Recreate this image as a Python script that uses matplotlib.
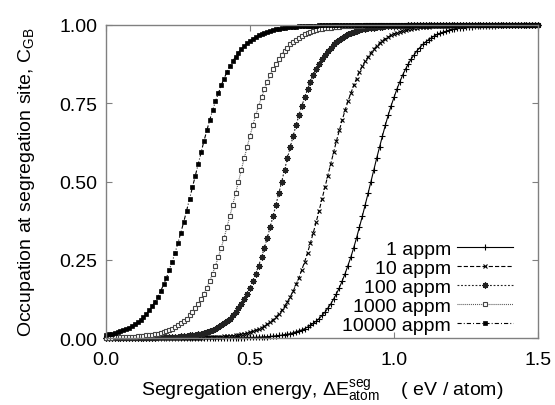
import numpy as np
import matplotlib
matplotlib.use('Agg')
import matplotlib.pyplot as plt

# Сетка энергий сегрегации (eV/atom), маркеры через 0.01 eV
energy = np.linspace(0.0, 1.5, 151)

# Заселённость сегрегационного места (шаг 0.01 eV)
occ_1 = [
    0.000, 0.000, 0.000, 0.000, 0.000, 0.000, 0.000, 0.000, 0.000, 0.000,
    0.000, 0.000, 0.000, 0.000, 0.000, 0.000, 0.000, 0.000, 0.000, 0.000,
    0.000, 0.000, 0.000, 0.000, 0.000, 0.000, 0.000, 0.000, 0.000, 0.000,
    0.000, 0.000, 0.000, 0.000, 0.000, 0.000, 0.000, 0.000, 0.000, 0.000,
    0.000, 0.000, 0.001, 0.001, 0.001, 0.001, 0.001, 0.001, 0.001, 0.002,
    0.002, 0.002, 0.002, 0.003, 0.003, 0.004, 0.004, 0.005, 0.006, 0.007,
    0.008, 0.009, 0.011, 0.012, 0.014, 0.017, 0.020, 0.023, 0.026, 0.030,
    0.035, 0.041, 0.047, 0.054, 0.062, 0.072, 0.082, 0.095, 0.108, 0.124,
    0.141, 0.160, 0.182, 0.205, 0.231, 0.258, 0.288, 0.320, 0.354, 0.389,
    0.425, 0.462, 0.500, 0.538, 0.575, 0.611, 0.646, 0.680, 0.712, 0.742,
    0.769, 0.795, 0.818, 0.840, 0.859, 0.876, 0.892, 0.905, 0.918, 0.928,
    0.938, 0.946, 0.953, 0.959, 0.965, 0.970, 0.974, 0.977, 0.980, 0.983,
    0.986, 0.988, 0.989, 0.991, 0.992, 0.993, 0.994, 0.995, 0.996, 0.996,
    0.997, 0.997, 0.998, 0.998, 0.998, 0.998, 0.999, 0.999, 0.999, 0.999,
    0.999, 0.999, 1.000, 1.000, 1.000, 1.000, 1.000, 1.000, 1.000, 1.000,
    1.000,
]
occ_10 = [
    0.000, 0.000, 0.000, 0.000, 0.000, 0.000, 0.000, 0.000, 0.000, 0.000,
    0.000, 0.000, 0.000, 0.000, 0.000, 0.000, 0.000, 0.000, 0.000, 0.000,
    0.000, 0.000, 0.000, 0.000, 0.000, 0.000, 0.000, 0.001, 0.001, 0.001,
    0.001, 0.001, 0.001, 0.001, 0.002, 0.002, 0.002, 0.003, 0.003, 0.003,
    0.004, 0.005, 0.005, 0.006, 0.007, 0.009, 0.010, 0.012, 0.013, 0.016,
    0.018, 0.021, 0.024, 0.028, 0.033, 0.038, 0.044, 0.050, 0.058, 0.067,
    0.077, 0.088, 0.101, 0.116, 0.132, 0.150, 0.171, 0.193, 0.218, 0.244,
    0.273, 0.304, 0.337, 0.371, 0.407, 0.444, 0.481, 0.519, 0.556, 0.593,
    0.629, 0.663, 0.696, 0.727, 0.756, 0.782, 0.807, 0.829, 0.850, 0.868,
    0.884, 0.899, 0.912, 0.923, 0.933, 0.942, 0.950, 0.956, 0.962, 0.967,
    0.972, 0.976, 0.979, 0.982, 0.984, 0.987, 0.988, 0.990, 0.991, 0.993,
    0.994, 0.995, 0.995, 0.996, 0.997, 0.997, 0.997, 0.998, 0.998, 0.998,
    0.999, 0.999, 0.999, 0.999, 0.999, 0.999, 0.999, 1.000, 1.000, 1.000,
    1.000, 1.000, 1.000, 1.000, 1.000, 1.000, 1.000, 1.000, 1.000, 1.000,
    1.000, 1.000, 1.000, 1.000, 1.000, 1.000, 1.000, 1.000, 1.000, 1.000,
    1.000,
]
occ_100 = [
    0.000, 0.000, 0.000, 0.000, 0.000, 0.000, 0.000, 0.000, 0.000, 0.000,
    0.000, 0.001, 0.001, 0.001, 0.001, 0.001, 0.001, 0.001, 0.002, 0.002,
    0.002, 0.002, 0.003, 0.003, 0.004, 0.004, 0.005, 0.006, 0.007, 0.008,
    0.009, 0.011, 0.012, 0.014, 0.017, 0.020, 0.023, 0.026, 0.030, 0.035,
    0.041, 0.047, 0.054, 0.062, 0.072, 0.082, 0.095, 0.108, 0.124, 0.141,
    0.160, 0.182, 0.205, 0.231, 0.258, 0.288, 0.320, 0.354, 0.389, 0.425,
    0.462, 0.500, 0.538, 0.575, 0.611, 0.646, 0.680, 0.712, 0.742, 0.769,
    0.795, 0.818, 0.840, 0.859, 0.876, 0.892, 0.905, 0.918, 0.928, 0.938,
    0.946, 0.953, 0.959, 0.965, 0.970, 0.974, 0.977, 0.980, 0.983, 0.986,
    0.988, 0.989, 0.991, 0.992, 0.993, 0.994, 0.995, 0.996, 0.996, 0.997,
    0.997, 0.998, 0.998, 0.998, 0.998, 0.999, 0.999, 0.999, 0.999, 0.999,
    0.999, 1.000, 1.000, 1.000, 1.000, 1.000, 1.000, 1.000, 1.000, 1.000,
    1.000, 1.000, 1.000, 1.000, 1.000, 1.000, 1.000, 1.000, 1.000, 1.000,
    1.000, 1.000, 1.000, 1.000, 1.000, 1.000, 1.000, 1.000, 1.000, 1.000,
    1.000, 1.000, 1.000, 1.000, 1.000, 1.000, 1.000, 1.000, 1.000, 1.000,
    1.000,
]
occ_1000 = [
    0.001, 0.001, 0.001, 0.002, 0.002, 0.002, 0.002, 0.003, 0.003, 0.004,
    0.004, 0.005, 0.006, 0.007, 0.008, 0.009, 0.011, 0.012, 0.014, 0.017,
    0.020, 0.023, 0.026, 0.030, 0.035, 0.041, 0.047, 0.054, 0.062, 0.072,
    0.082, 0.095, 0.108, 0.124, 0.141, 0.160, 0.182, 0.205, 0.231, 0.258,
    0.288, 0.320, 0.354, 0.389, 0.425, 0.462, 0.500, 0.538, 0.575, 0.611,
    0.646, 0.680, 0.712, 0.742, 0.769, 0.795, 0.818, 0.840, 0.859, 0.876,
    0.892, 0.905, 0.918, 0.928, 0.938, 0.946, 0.953, 0.959, 0.965, 0.970,
    0.974, 0.977, 0.980, 0.983, 0.986, 0.988, 0.989, 0.991, 0.992, 0.993,
    0.994, 0.995, 0.996, 0.996, 0.997, 0.997, 0.998, 0.998, 0.998, 0.998,
    0.999, 0.999, 0.999, 0.999, 0.999, 0.999, 1.000, 1.000, 1.000, 1.000,
    1.000, 1.000, 1.000, 1.000, 1.000, 1.000, 1.000, 1.000, 1.000, 1.000,
    1.000, 1.000, 1.000, 1.000, 1.000, 1.000, 1.000, 1.000, 1.000, 1.000,
    1.000, 1.000, 1.000, 1.000, 1.000, 1.000, 1.000, 1.000, 1.000, 1.000,
    1.000, 1.000, 1.000, 1.000, 1.000, 1.000, 1.000, 1.000, 1.000, 1.000,
    1.000, 1.000, 1.000, 1.000, 1.000, 1.000, 1.000, 1.000, 1.000, 1.000,
    1.000,
]
occ_10000 = [
    0.010, 0.012, 0.013, 0.016, 0.018, 0.021, 0.024, 0.028, 0.033, 0.038,
    0.044, 0.050, 0.058, 0.067, 0.077, 0.088, 0.101, 0.116, 0.132, 0.150,
    0.171, 0.193, 0.218, 0.244, 0.273, 0.304, 0.337, 0.371, 0.407, 0.444,
    0.481, 0.519, 0.556, 0.593, 0.629, 0.663, 0.696, 0.727, 0.756, 0.782,
    0.807, 0.829, 0.850, 0.868, 0.884, 0.899, 0.912, 0.923, 0.933, 0.942,
    0.950, 0.956, 0.962, 0.967, 0.972, 0.976, 0.979, 0.982, 0.984, 0.987,
    0.988, 0.990, 0.991, 0.993, 0.994, 0.995, 0.995, 0.996, 0.997, 0.997,
    0.997, 0.998, 0.998, 0.998, 0.999, 0.999, 0.999, 0.999, 0.999, 0.999,
    0.999, 1.000, 1.000, 1.000, 1.000, 1.000, 1.000, 1.000, 1.000, 1.000,
    1.000, 1.000, 1.000, 1.000, 1.000, 1.000, 1.000, 1.000, 1.000, 1.000,
    1.000, 1.000, 1.000, 1.000, 1.000, 1.000, 1.000, 1.000, 1.000, 1.000,
    1.000, 1.000, 1.000, 1.000, 1.000, 1.000, 1.000, 1.000, 1.000, 1.000,
    1.000, 1.000, 1.000, 1.000, 1.000, 1.000, 1.000, 1.000, 1.000, 1.000,
    1.000, 1.000, 1.000, 1.000, 1.000, 1.000, 1.000, 1.000, 1.000, 1.000,
    1.000, 1.000, 1.000, 1.000, 1.000, 1.000, 1.000, 1.000, 1.000, 1.000,
    1.000,
]

series = [occ_1, occ_10, occ_100, occ_1000, occ_10000]
labels = ['1 appm', '10 appm', '100 appm', '1000 appm', '10000 appm']
x_ticks = [0.0, 0.5, 1.0, 1.5]
y_ticks = [0.00, 0.25, 0.50, 0.75, 1.00]

# Стили линий в духе gnuplot
styles = [
    dict(ls='-', marker='+', ms=4.5, mew=0.8, color='black'),
    dict(ls=(0, (3, 1.5)), marker='x', ms=3.2, mew=0.8, color='black'),
    dict(ls=(0, (1.3, 1.3)), marker=(8, 2, 0), ms=4.3, mew=0.9, color='#222222'),
    dict(ls=(0, (0.7, 0.7)), marker='s', ms=3.3, mew=0.8, mfc='white', mec='#444444', color='#555555'),
    dict(ls=(0, (3, 1.5, 0.7, 1.5)), marker='s', ms=3.4, mew=0.5, mfc='black', mec='black', color='black'),
]

plt.rcParams['font.family'] = ['Liberation Sans', 'DejaVu Sans']
plt.rcParams['font.size'] = 14
plt.rcParams['mathtext.fontset'] = 'custom'
plt.rcParams['mathtext.rm'] = 'Liberation Sans'
plt.rcParams['lines.scale_dashes'] = False

fig = plt.figure(figsize=(5.55, 4.06), dpi=100)
ax = fig.add_axes([106 / 555, 1 - 339 / 406, 432 / 555, 313 / 406])

for y, lab, st in zip(series, labels, styles):
    ax.plot(energy, y, label=lab, lw=0.8, clip_on=False, **st)

ax.set_xlim(0, 1.5)
ax.set_ylim(0, 1)
ax.set_xticks(x_ticks)
ax.set_yticks(y_ticks)
ax.set_xticklabels([f'{v:.1f}' for v in x_ticks])
ax.set_yticklabels([f'{v:.2f}' for v in y_ticks])
ax.tick_params(direction='in', length=4, width=0.8, color='#808080',
               top=True, right=True, labelsize=14)
ax.tick_params(axis='y', pad=6)
ax.tick_params(axis='x', pad=9.5)
for sp in ax.spines.values():
    sp.set_color('#808080')
    sp.set_linewidth(1.0)

ax.set_xlabel('Segregation energy, \u0394E$^{\\mathrm{seg}}_{\\mathrm{atom}}$    ( eV / atom)', labelpad=6)
ax.set_ylabel('Occupation at segregation site, C$_{\\mathrm{GB}}$', labelpad=16)

ax.legend(loc='lower right', bbox_to_anchor=(513 / 555, 1 - 335 / 406),
          bbox_transform=fig.transFigure, frameon=False, markerfirst=False,
          numpoints=1, handlelength=2.9, handletextpad=0.3, labelspacing=0.07,
          borderpad=0, borderaxespad=0, fontsize=14)

fig.savefig('out.png', dpi=100)
